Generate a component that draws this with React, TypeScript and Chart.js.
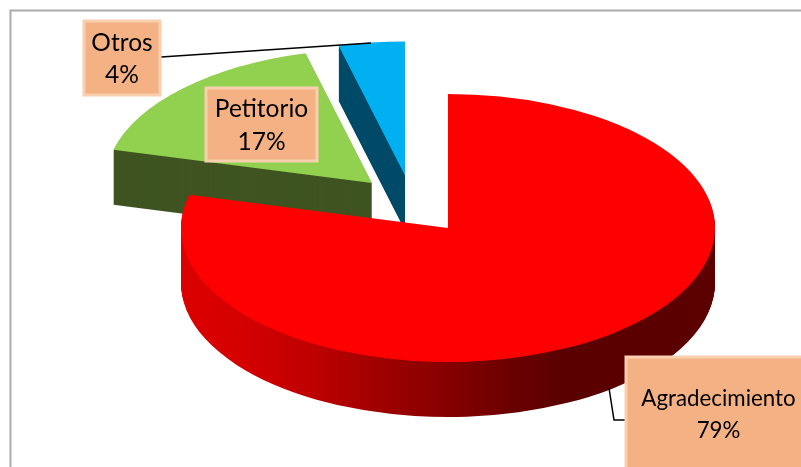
import React, { useEffect, useRef } from "react";
import { Chart, registerables } from "chart.js";

Chart.register(...registerables);

const categories = ["Agradecimiento", "Petitorio", "Otros"];
const values = [79, 17, 4];
const topColors = ["#ff0000", "#92d050", "#00b0f0"];
const wallColors = ["", "#3f5421", "#004a68"];

const RX = 267;
const RY = 134;
const DEPTH = 55;
const apexes = [
  { x: 448, y: 228 },
  { x: 372, y: 183 },
  { x: 405, y: 175.5 },
];
const redWallStops: [number, string][] = [
  [0, "#dc0000"],
  [0.12, "#d40000"],
  [0.25, "#bd0000"],
  [0.38, "#9e0000"],
  [0.5, "#860000"],
  [0.62, "#6a0000"],
  [0.72, "#5a0000"],
  [1, "#5c0000"],
];
const boxes = [
  { x: 626, y: 357, w: 178, h: 112, line1: 399, line2: 431, size: 22.3 },
  { x: 206, y: 88, w: 111, h: 73, line1: 109, line2: 142, size: 24.5 },
  { x: 84, y: 21, w: 76, h: 74, line1: 43, line2: 75, size: 24.5 },
];
const leaders = [
  [[609, 388], [614, 420], [626, 420]],
  [],
  [[161, 57], [371, 43]],
];

const pie3d = {
  id: "pie3d",
  beforeDatasetsDraw(chart: any) {
    const ctx = chart.ctx;
    const arcs = chart.getDatasetMeta(0).data;
    [2, 1, 0].forEach((i) => {
      const el = arcs[i];
      const R = el.outerRadius;
      const sx = RX / R;
      const sy = RY / R;
      const place = (dy: number) => {
        ctx.translate(apexes[i].x, apexes[i].y + dy);
        ctx.scale(sx, sy);
        ctx.translate(-el.x, -el.y);
      };
      let wall: any = wallColors[i];
      if (i === 0) {
        wall = ctx.createLinearGradient(el.x - R, 0, el.x + R, 0);
        redWallStops.forEach(([p, c]) => wall.addColorStop(p, c));
      }
      const original = el.options;
      el.options = {
        backgroundColor: wall,
        borderColor: wall,
        borderWidth: 0,
        borderAlign: "center",
        borderJoinStyle: "round",
        borderDash: [],
        borderDashOffset: 0,
        borderRadius: 0,
        offset: 0,
        spacing: 0,
        circular: true,
      };
      for (let d = DEPTH; d > 0; d -= 1) {
        ctx.save();
        place(d);
        el.draw(ctx);
        ctx.restore();
      }
      el.options = original;
      ctx.save();
      place(0);
      el.draw(ctx);
      ctx.restore();
    });
    return false;
  },
  afterDraw(chart: any) {
    const ctx = chart.ctx;
    ctx.save();
    ctx.strokeStyle = "#ababab";
    ctx.lineWidth = 2;
    ctx.beginPath();
    ctx.moveTo(10.5, 467);
    ctx.lineTo(10.5, 10.5);
    ctx.lineTo(801, 10.5);
    ctx.stroke();

    ctx.strokeStyle = "#000000";
    ctx.lineWidth = 1.5;
    leaders.forEach((pts) => {
      if (!pts.length) return;
      ctx.beginPath();
      pts.forEach(([x, y], k) => (k ? ctx.lineTo(x, y) : ctx.moveTo(x, y)));
      ctx.stroke();
    });

    boxes.forEach((b, i) => {
      ctx.fillStyle = "#f4b183";
      ctx.strokeStyle = "#f9cfb0";
      ctx.lineWidth = 3;
      ctx.fillRect(b.x, b.y, b.w, b.h);
      ctx.strokeRect(b.x, b.y, b.w, b.h);
      ctx.fillStyle = "#000000";
      ctx.textAlign = "center";
      ctx.textBaseline = "middle";
      ctx.font = `${b.size}px Lato`;
      const cx = i === 0 ? 718.5 : b.x + b.w / 2;
      ctx.fillText(categories[i], cx, b.line1);
      ctx.fillText(`${values[i]}%`, cx, b.line2);
    });
    ctx.restore();
  },
};

export default function App() {
  const ref = useRef<HTMLCanvasElement>(null);
  useEffect(() => {
    const chart = new Chart(ref.current as HTMLCanvasElement, {
      type: "pie",
      data: {
        labels: categories,
        datasets: [
          {
            data: values,
            backgroundColor: topColors,
            borderWidth: 0,
          },
        ],
      },
      options: {
        animation: false,
        responsive: false,
        devicePixelRatio: 1,
        plugins: { legend: { display: false }, tooltip: { enabled: false } },
      },
      plugins: [pie3d],
    } as any);
    return () => chart.destroy();
  }, []);
  return (
    <canvas
      ref={ref}
      width={801}
      height={467}
      style={{ position: "fixed", left: 0, top: 0, width: 801, height: 467, background: "#ffffff" }}
    />
  );
}
